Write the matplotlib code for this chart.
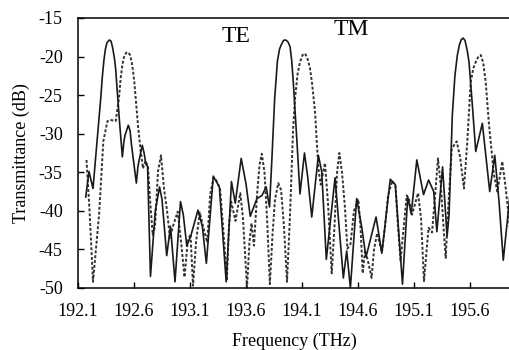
import matplotlib
matplotlib.use('Agg')
import matplotlib.pyplot as plt

plt.rcParams['font.family'] = ['Liberation Serif', 'DejaVu Serif']
plt.rcParams['axes.unicode_minus'] = False

# TE (solid) transmittance
te_freq = [192.169, 192.198, 192.234, 192.261, 192.303, 192.318, 192.332, 192.345,
           192.359, 192.380, 192.395, 192.410, 192.426, 192.437, 192.448, 192.471,
           192.496, 192.510, 192.520, 192.549, 192.565, 192.578, 192.621, 192.635,
           192.645, 192.674, 192.690, 192.707, 192.721, 192.747, 192.790, 192.828,
           192.850, 192.892, 192.926, 192.966, 193.015, 193.040, 193.071, 193.106,
           193.171, 193.210, 193.246, 193.308, 193.362, 193.423, 193.470, 193.504,
           193.557, 193.600, 193.638, 193.698, 193.743, 193.780, 193.810, 193.832,
           193.856, 193.881, 193.900, 193.917, 193.935, 193.955, 193.975, 193.993,
           194.008, 194.022, 194.053, 194.082, 194.122, 194.150, 194.187, 194.246,
           194.276, 194.317, 194.395, 194.469, 194.499, 194.532, 194.588, 194.633,
           194.671, 194.761, 194.813, 194.888, 194.933, 194.997, 195.044, 195.075,
           195.125, 195.185, 195.230, 195.276, 195.304, 195.355, 195.395, 195.413,
           195.442, 195.465, 195.487, 195.505, 195.522, 195.538, 195.555, 195.575,
           195.591, 195.621, 195.651, 195.710, 195.776, 195.821, 195.859, 195.897,
           195.957]
te_db = [-38.2, -34.9, -37.1, -32.5, -25.4, -22.5, -20.4, -19.0,
         -18.2, -17.85, -18.0, -18.9, -20.3, -21.7, -24.0, -28.5,
         -33.0, -31.0, -30.2, -28.9, -29.6, -31.5, -36.4, -34.3,
         -33.5, -31.5, -32.5, -34.0, -34.2, -48.5, -40.0, -36.9,
         -38.5, -45.8, -42.0, -49.2, -38.8, -40.5, -44.5, -43.3,
         -39.9, -42.0, -46.8, -35.5, -36.9, -49.2, -36.2, -39.0,
         -33.2, -36.5, -40.7, -38.4, -38.0, -36.9, -39.5, -33.0,
         -25.4, -20.5, -19.0, -18.4, -17.9, -17.85, -18.1, -18.7,
         -20.5, -23.3, -30.6, -37.8, -32.5, -35.5, -40.8, -32.8,
         -34.9, -46.3, -35.7, -48.7, -45.2, -50.0, -38.4, -42.1,
         -46.0, -40.8, -45.5, -35.9, -36.6, -49.5, -38.2, -40.4,
         -33.4, -37.9, -36.0, -37.5, -42.7, -34.3, -43.3, -40.5,
         -27.6, -22.5, -19.8, -18.5, -17.8, -17.6, -17.9, -19.2,
         -20.7, -26.3, -32.3, -28.65, -37.5, -32.8, -38.8, -46.4,
         -37.9]

# TM (dashed) transmittance
tm_freq = [192.176, 192.203, 192.234, 192.261, 192.288, 192.326, 192.362, 192.386,
           192.437, 192.466, 192.481, 192.496, 192.510, 192.530, 192.549, 192.565,
           192.580, 192.591, 192.603, 192.615, 192.636, 192.660, 192.680, 192.703,
           192.725, 192.743, 192.767, 192.788, 192.814, 192.841, 192.868, 192.895,
           192.921, 192.948, 192.990, 193.020, 193.051, 193.079, 193.104, 193.127,
           193.154, 193.187, 193.216, 193.254, 193.279, 193.310, 193.332, 193.368,
           193.395, 193.429, 193.448, 193.468, 193.506, 193.549, 193.573, 193.609,
           193.631, 193.649, 193.671, 193.698, 193.721, 193.741, 193.765, 193.788,
           193.813, 193.837, 193.859, 193.888, 193.913, 193.939, 193.966, 193.993,
           194.020, 194.038, 194.060, 194.082, 194.105, 194.127, 194.150, 194.171,
           194.190, 194.216, 194.246, 194.267, 194.305, 194.332, 194.365, 194.390,
           194.413, 194.433, 194.457, 194.484, 194.505, 194.533, 194.564, 194.603,
           194.622, 194.642, 194.663, 194.689, 194.721, 194.743, 194.771, 194.813,
           194.841, 194.868, 194.905, 194.935, 194.957, 194.980, 195.002, 195.035,
           195.055, 195.082, 195.136, 195.163, 195.189, 195.230, 195.261, 195.288,
           195.314, 195.341, 195.363, 195.383, 195.404, 195.437, 195.457, 195.481,
           195.511, 195.546, 195.576, 195.606, 195.630, 195.651, 195.675, 195.696,
           195.718, 195.740, 195.770, 195.814, 195.844, 195.888, 195.919, 195.957]
tm_db = [-33.4, -40.0, -49.2, -44.9, -40.5, -31.0, -28.4, -28.2,
         -28.35, -25.4, -22.8, -21.1, -20.1, -19.5, -19.45, -19.8,
         -20.8, -21.8, -23.3, -25.4, -29.0, -32.3, -34.5, -33.5,
         -34.3, -38.5, -43.1, -42.0, -34.9, -32.8, -37.1, -40.0,
         -43.5, -42.0, -40.1, -44.0, -48.6, -44.0, -43.0, -49.7,
         -44.0, -40.2, -42.0, -44.1, -38.0, -35.7, -36.0, -37.1,
         -42.0, -49.0, -42.0, -38.8, -41.3, -37.7, -41.0, -49.9,
         -44.0, -41.6, -44.5, -38.0, -34.0, -32.6, -35.0, -41.0,
         -49.5, -43.0, -38.5, -36.4, -37.3, -42.0, -49.2, -40.5,
         -29.5, -25.4, -22.3, -20.7, -19.8, -19.6, -20.3, -21.5,
         -23.5, -27.1, -34.5, -36.6, -33.8, -39.0, -48.1, -42.0,
         -35.0, -32.5, -35.0, -39.7, -44.9, -44.3, -40.0, -38.5,
         -42.0, -48.1, -45.1, -46.5, -48.7, -45.0, -42.9, -45.4,
         -42.0, -38.0, -36.1, -36.8, -42.0, -46.5, -43.0, -38.0,
         -38.5, -40.5, -37.7, -41.0, -49.1, -42.2, -42.8, -38.0,
         -33.2, -37.0, -42.0, -46.1, -40.0, -32.0, -31.5, -31.0,
         -33.0, -37.1, -31.0, -23.3, -21.5, -20.7, -20.0, -19.8,
         -20.8, -23.3, -28.9, -35.35, -37.5, -33.6, -37.1, -42.3]

x_ticks = [192.1, 192.6, 193.1, 193.6, 194.1, 194.6, 195.1, 195.6]
y_ticks = [-15, -20, -25, -30, -35, -40, -45, -50]

fig = plt.figure(figsize=(5.1, 3.5), dpi=100)
ax = fig.add_axes([78/510, 62/350, 432/510, 270/350])

ax.plot(tm_freq, tm_db, color='#333333', lw=1.4, linestyle=(0, (1.5, 1)))
ax.plot(te_freq, te_db, color='#1a1a1a', lw=1.2)

ax.set_xlim(192.1, 195.957)
ax.set_ylim(-50, -15)
ax.set_xticks(x_ticks)
ax.set_xticklabels([f'{t:.1f}' for t in x_ticks])
ax.set_yticks(y_ticks)
ax.tick_params(direction='in', length=4, width=1, labelsize=13, pad=11)
ax.spines['right'].set_visible(False)
for s in ['left', 'bottom', 'top']:
    ax.spines[s].set_linewidth(1.1)

ax.set_xlabel('Frequency (THz)', fontsize=13, labelpad=9)
ax.set_ylabel('Transmittance (dB)', fontsize=13, labelpad=6)

ax.text(193.508, -17.4, 'TE', fontsize=17, ha='center', va='center')
ax.text(194.544, -16.5, 'TM', fontsize=17, ha='center', va='center')

fig.savefig('out.png', dpi=100)
